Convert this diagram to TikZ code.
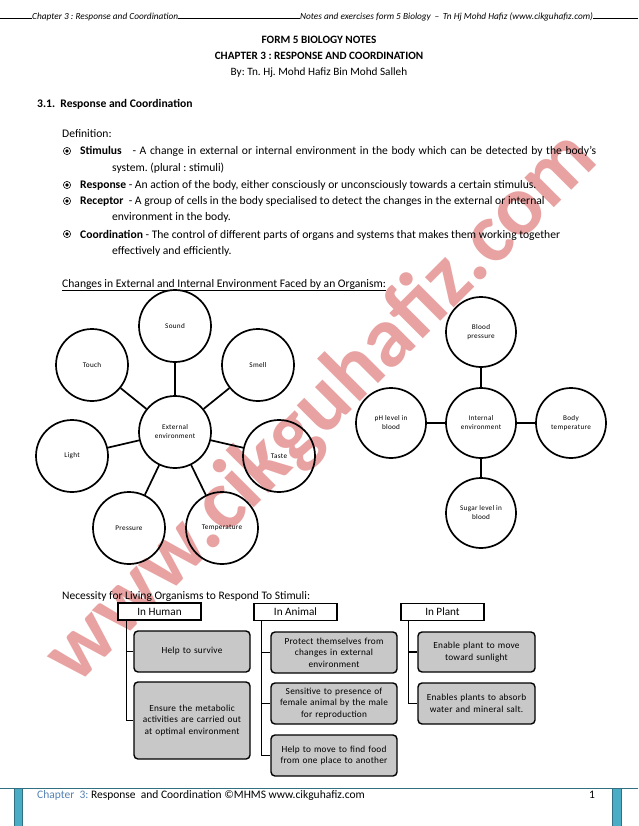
\documentclass[tikz,border=0pt]{standalone}
\usepackage{fontspec}
\setmainfont{Carlito}
\newfontfamily\spaced[LetterSpace=4]{Carlito}
\newfontfamily\spacedb[LetterSpace=2.5]{Carlito}
\usetikzlibrary{calc}
\definecolor{boxgray}{RGB}{200,200,200}
\definecolor{wmpink}{RGB}{232,162,162}
\definecolor{teal}{RGB}{75,172,198}
\definecolor{tealdark}{RGB}{49,112,130}
\definecolor{chapblue}{RGB}{84,130,180}
\begin{document}
\frenchspacing
\begin{tikzpicture}[x=1pt,y=-1pt,
  ring/.style={circle, draw, line width=1.7pt, minimum size=72pt, inner sep=0pt, align=center, font=\spaced\fontsize{7.2}{9}\selectfont},
  link/.style={line width=1.7pt},
  hdr/.style={draw, line width=1.3pt, fill=white, minimum width=83pt, minimum height=17pt, inner sep=0pt, font=\fontsize{11.2}{12}\selectfont},
  gbox/.style={draw, line width=1.4pt, fill=boxgray, rounded corners=4pt, align=center, inner sep=0pt, font=\spacedb\fontsize{9.3}{11.6}\selectfont},
  branch/.style={line width=1.6pt},
  body/.style={anchor=base west, inner sep=0pt, font=\fontsize{11.6}{13}\selectfont},
  bul/.style={line width=0.6pt}
]
\useasboundingbox (0,0) rectangle (638,826);
\fill[white] (0,0) rectangle (638,826);

% watermark
\node[rotate=45, text=wmpink, font=\fontsize{86}{90}\bfseries\selectfont, inner sep=0pt] (wm) at (322,408) {www.cikguhafiz.com};

% page header
\node[anchor=base west, inner sep=0pt, font=\fontsize{9.3}{11}\itshape\selectfont] (hl) at (32,20) {Chapter 3 : Response and Coordination};
\node[anchor=base west, inner sep=0pt, font=\fontsize{9.3}{11}\itshape\selectfont] (hr) at (300,20) {Notes and exercises form 5 Biology \,–\, Tn Hj Mohd Hafiz (www.cikguhafiz.com)};
\coordinate (hL) at (0,18);
\coordinate (hR) at (638,18);
\draw[line width=0.5pt] (hL) -- (hL -| hl.west);
\draw[line width=0.5pt] (hl.east |- hL) -- (hL -| hr.west);
\draw[line width=0.5pt] (hr.east |- hL) -- (hR);

% titles
\node[anchor=base, inner sep=0pt, font=\fontsize{11.2}{13}\bfseries\selectfont] (t1) at (319,44) {FORM 5 BIOLOGY NOTES};
\node[anchor=base, inner sep=0pt, font=\fontsize{11.2}{13}\bfseries\selectfont] (t2) at (319,60) {CHAPTER 3 : RESPONSE AND COORDINATION};
\node[anchor=base, inner sep=0pt, font=\fontsize{11.2}{13}\selectfont] (t3) at (319,76) {By: Tn. Hj. Mohd Hafiz Bin Mohd Salleh};
\node[body, font=\fontsize{11.6}{13}\bfseries\selectfont] (sec) at (37,108) {3.1.\ \ Response and Coordination};

% definitions
\node[body] (def) at (62,138) {Definition:};
\foreach \yy in {151,185,201,234}{
  \draw[bul] (67,\yy) circle (3.6pt);
  \fill (67,\yy) circle (1.9pt);
}
\node[body] (s1) at (80,155) {\hbox to 516pt{\textbf{Stimulus}\ \ \ - A change in external or internal environment in the body which can be detected by the body’s}};
\node[body] (s2) at (112,172) {system. (plural : stimuli)};
\node[body] (r1) at (80,189) {\textbf{Response} - An action of the body, either consciously or unconsciously towards a certain stimulus.};
\node[body] (c1) at (80,205) {\textbf{Receptor}\ \ - A group of cells in the body specialised to detect the changes in the external or internal};
\node[body] (c2) at (112,221) {environment in the body.};
\node[body] (o1) at (80,238) {\textbf{Coordination} - The control of different parts of organs and systems that makes them working together};
\node[body] (o2) at (112,254) {effectively and efficiently.};

\node[body] (chg) at (62,287) {\underline{Changes in External and Internal Environment Faced by an Organism:}};

% external environment
\node[ring] (ext) at (175,432) {External\\environment};
\node[ring] (sound) at (175,326) {Sound};
\node[ring] (touch) at (92,365) {Touch};
\node[ring] (smell) at (258,365) {Smell};
\node[ring] (light) at (72,456) {Light};
\node[ring] (taste) at (279,456) {Taste};
\node[ring] (press) at (129,528) {Pressure};
\node[ring] (temp) at (222,528) {Temperature};
\foreach \n in {sound,touch,smell,light,taste,press,temp}{
  \draw[link] (ext) -- (\n);
}

% internal environment
\node[ring, minimum size=70pt] (int) at (481,423) {Internal\\environment};
\node[ring, minimum size=70pt] (bp) at (481,332) {Blood\\pressure};
\node[ring, minimum size=70pt] (ph) at (391,423) {pH level in\\blood};
\node[ring, minimum size=70pt] (bt) at (571,423) {Body\\temperature};
\node[ring, minimum size=70pt] (sug) at (481,513) {Sugar level in\\blood};
\foreach \n in {bp,ph,bt,sug}{
  \draw[link] (int) -- (\n);
}

% necessity
\node[body, font=\fontsize{11.5}{13}\selectfont] (nec) at (62,599) {Necessity for Living Organisms to Respond To Stimuli:};

\node[hdr] (hh) at (159.5,611.5) {In Human};
\node[hdr] (ha) at (295.5,612) {In Animal};
\node[hdr] (hp) at (442.5,612) {In Plant};

\node[gbox, minimum width=116pt, minimum height=41pt, text width=112pt] (h1) at (192,651.5) {Help to survive};
\node[gbox, minimum width=116pt, minimum height=77pt, text width=112pt] (h2) at (192,720.5) {Ensure the metabolic\\activities are carried out\\at optimal environment};

\node[gbox, minimum width=126pt, minimum height=41pt, text width=122pt] (a1) at (334,652.5) {Protect themselves from\\changes in external\\environment};
\node[gbox, minimum width=126pt, minimum height=41pt, text width=122pt] (a2) at (334,703.5) {Sensitive to presence of\\female animal by the male\\for reproduction};
\node[gbox, minimum width=126pt, minimum height=41pt, text width=122pt] (a3) at (334,755.5) {Help to move to find food\\from one place to another};

\node[gbox, minimum width=117pt, minimum height=40pt, text width=113pt] (p1) at (476.5,652) {Enable plant to move\\toward sunlight};
\node[gbox, minimum width=117pt, minimum height=41pt, text width=113pt] (p2) at (476.5,703.5) {Enables plants to absorb\\water and mineral salt.};

\coordinate (hv) at ($(hh.south west)+(9pt,0)$);
\coordinate (av) at ($(ha.south west)+(8pt,0)$);
\coordinate (pv) at ($(hp.south west)+(8pt,0)$);
\draw[branch] (hv) |- (h2.west);
\draw[branch] (hv |- h1.west) -- (h1.west);
\draw[branch] (av) |- (a3.west);
\draw[branch] (av |- a1.west) -- (a1.west);
\draw[branch] (av |- a2.west) -- (a2.west);
\draw[branch] (pv) |- (p2.west);
\draw[branch] (pv |- p1.west) -- (p1.west);

% footer
\coordinate (fL) at (0,788);
\coordinate (fR) at (638,788);
\draw[tealdark, line width=0.8pt] (fL) -- (fR);
\filldraw[fill=teal, draw=tealdark, line width=0.6pt] (14,788) rectangle (22,826);
\filldraw[fill=teal, draw=tealdark, line width=0.6pt] (612,788) rectangle (621,826);
\node[anchor=base west, inner sep=0pt, font=\fontsize{11.5}{13}\selectfont] (ft) at (37,798) {\textcolor{chapblue}{Chapter\ \ 3:} Response\ \ and Coordination ©MHMS www.cikguhafiz.com};
\node[anchor=base west, inner sep=0pt, font=\fontsize{11.5}{13}\selectfont] (pg) at (589,798) {1};
\end{tikzpicture}
\end{document}
